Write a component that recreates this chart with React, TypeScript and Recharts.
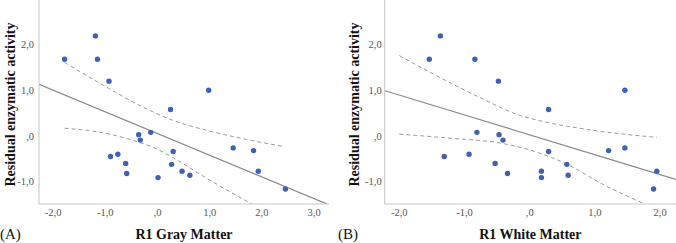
import { ComposedChart, Scatter, Line, XAxis, YAxis } from "recharts";

const SERIF = '"Liberation Serif", "Times New Roman", serif';
const DOT = "#3f60b4";
const FIT = "#8a8a8a";
const BAND = "#9a9a9a";
const AXIS = "#c6c6c6";
const TICK_INK = "#555";

// residual enzymatic activity (same subjects in both panels)
const residual = [1.68, 2.19, 1.68, 1.2, 1.0, 0.58, 0.03, 0.08, -0.09, -0.45, -0.4, -0.6, -0.82, -0.91, -0.34, -0.62, -0.77, -0.86, -0.26, -0.32, -0.77, -1.16];
const grayMatter = [-1.78, -1.19, -1.15, -0.93, 0.98, 0.25, -0.36, -0.13, -0.33, -0.9, -0.76, -0.61, -0.59, 0.01, 0.3, 0.27, 0.47, 0.62, 1.45, 1.84, 1.93, 2.45];
const whiteMatter = [-1.54, -1.37, -0.84, -0.48, 1.46, 0.29, -0.47, -0.81, -0.41, -1.31, -0.93, -0.53, -0.34, 0.18, 0.29, 0.57, 0.18, 0.59, 1.46, 1.21, 1.95, 1.9];

// fit line and 95% band, gray matter
const grayFitX = [-2.27, 3.25];
const grayFitY = [1.13, -1.49];
const grayUpperX = [-1.78, -0.93, -0.36, 0.28, 0.92, 1.56, 2.42];
const grayUpperY = [1.61, 1.04, 0.68, 0.35, 0.13, -0.04, -0.23];
const grayLowerX = [-1.78, -1.0, -0.49, -0.04, 0.41, 0.92, 1.81];
const grayLowerY = [0.17, 0.06, -0.09, -0.27, -0.55, -0.91, -1.49];

// fit line and 95% band, white matter
const whiteFitX = [-2.22, 2.24];
const whiteFitY = [0.99, -0.95];
const whiteUpperX = [-2.0, -1.2, -0.69, -0.17, 0.23, 0.85, 1.95];
const whiteUpperY = [1.76, 1.15, 0.79, 0.46, 0.31, 0.15, -0.03];
const whiteLowerX = [-2.0, -1.2, -0.43, 0.08, 0.59, 1.1, 1.77];
const whiteLowerY = [0.04, -0.05, -0.16, -0.34, -0.63, -1.04, -1.49];

const yTicks = [-1, 0, 1, 2];
const grayTicks = [-2, -1, 0, 1, 2, 3];
const whiteTicks = [-2, -1, 0, 1, 2];

const pairs = (xs: number[], ys: number[]) => xs.map((x, i) => ({ x, y: ys[i] }));

// SPSS-style decimal comma, zero printed as ",0"
const fmt = (v: number) => (v === 0 ? ",0" : v.toFixed(1).replace(".", ","));

const Dot = (p: any) => <circle cx={p.cx} cy={p.cy} r={2.7} fill={DOT} />;

const XTick = (p: any) => (
  <text x={p.x} y={p.y + 8} textAnchor="middle" dominantBaseline="central" fontFamily={SERIF} fontSize={10.5} fill={TICK_INK}>
    {fmt(p.payload.value)}
  </text>
);

const YTick = (p: any) => (
  <text x={p.x} y={p.y} textAnchor="end" dominantBaseline="central" fontFamily={SERIF} fontSize={10.5} fill={TICK_INK}>
    {fmt(p.payload.value)}
  </text>
);

type PanelProps = {
  tag: string;
  title: string;
  xs: number[];
  xDomain: [number, number];
  xTicks: number[];
  axisWidth: number;
  rightPad: number;
  tickGap: number;
  labelX: number;
  fit: { x: number; y: number }[];
  upper: { x: number; y: number }[];
  lower: { x: number; y: number }[];
};

function Panel(props: PanelProps) {
  const { tag, title, xs, xDomain, xTicks, axisWidth, rightPad, tickGap, labelX, fit, upper, lower } = props;
  const points = pairs(xs, residual);
  const W = 338;
  const H = 243;
  const plotMid = axisWidth + (W - axisWidth - rightPad) / 2;
  return (
    <div style={{ position: "relative", width: W, height: H }}>
      <ComposedChart width={W} height={H} margin={{ top: 0, right: rightPad, left: 0, bottom: 0 }}>
        <XAxis
          type="number"
          dataKey="x"
          domain={xDomain}
          ticks={xTicks}
          allowDataOverflow
          height={39}
          tickSize={0}
          tickMargin={0}
          tick={XTick}
          axisLine={{ stroke: AXIS }}
        />
        <YAxis
          type="number"
          dataKey="y"
          domain={[-1.488, 2.976]}
          ticks={yTicks}
          allowDataOverflow
          width={axisWidth}
          tickSize={0}
          tickMargin={tickGap}
          tick={YTick}
          axisLine={{ stroke: AXIS }}
        />
        <Line data={fit} dataKey="y" type="linear" stroke={FIT} strokeWidth={1.2} dot={false} isAnimationActive={false} />
        <Line data={upper} dataKey="y" type="monotone" stroke={BAND} strokeWidth={1} strokeDasharray="4 3" dot={false} isAnimationActive={false} />
        <Line data={lower} dataKey="y" type="monotone" stroke={BAND} strokeWidth={1} strokeDasharray="4 3" dot={false} isAnimationActive={false} />
        <Scatter data={points} dataKey="y" shape={Dot} isAnimationActive={false} />
      </ComposedChart>
      <svg width={W} height={H} style={{ position: "absolute", left: 0, top: 0, pointerEvents: "none" }}>
        <text
          x={labelX}
          y={104.5}
          transform={`rotate(-90 ${labelX} 104.5)`}
          textAnchor="middle"
          dominantBaseline="central"
          fontFamily={SERIF}
          fontWeight="bold"
          fontSize={14}
          fill="#111"
        >
          Residual enzymatic activity
        </text>
        <text x={plotMid} y={239} textAnchor="middle" fontFamily={SERIF} fontWeight="bold" fontSize={14} fill="#111">
          {title}
        </text>
        <text x={0} y={239} fontFamily={SERIF} fontSize={15} fill="#111">
          {tag}
        </text>
      </svg>
    </div>
  );
}

export default function App() {
  return (
    <div style={{ position: "absolute", left: 0, top: 0, width: 676, height: 243, display: "flex", background: "#fff" }}>
      <Panel
        tag="(A)"
        title="R1 Gray Matter"
        xs={grayMatter}
        xDomain={[-2.27, 3.285]}
        xTicks={grayTicks}
        axisWidth={39}
        rightPad={9}
        tickGap={5}
        labelX={10}
        fit={pairs(grayFitX, grayFitY)}
        upper={pairs(grayUpperX, grayUpperY)}
        lower={pairs(grayLowerX, grayLowerY)}
      />
      <Panel
        tag="(B)"
        title="R1 White Matter"
        xs={whiteMatter}
        xDomain={[-2.224, 2.244]}
        xTicks={whiteTicks}
        axisWidth={46.7}
        rightPad={0}
        tickGap={3}
        labelX={16.5}
        fit={pairs(whiteFitX, whiteFitY)}
        upper={pairs(whiteUpperX, whiteUpperY)}
        lower={pairs(whiteLowerX, whiteLowerY)}
      />
    </div>
  );
}
